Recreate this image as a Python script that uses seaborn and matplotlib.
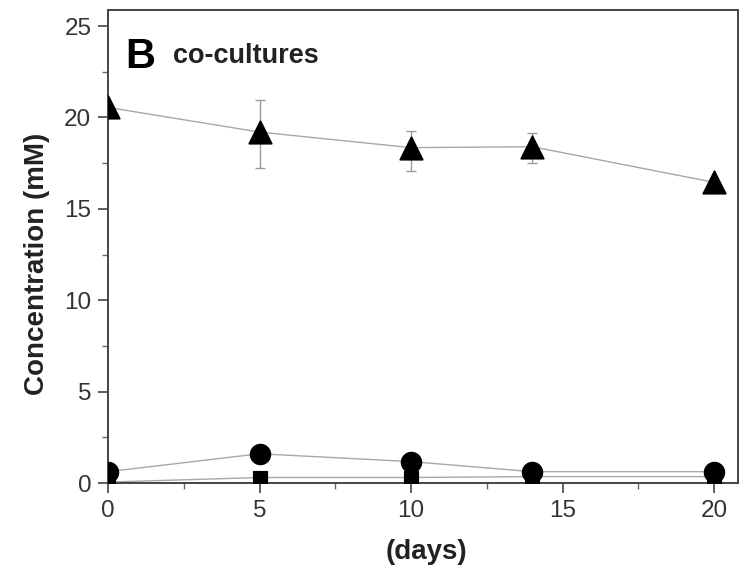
import numpy as np
import pandas as pd
import matplotlib
matplotlib.use("Agg")
import matplotlib.pyplot as plt
import seaborn as sns
from matplotlib.ticker import MultipleLocator

days = [0, 5, 10, 14, 20]
triangle_vals = [20.55, 19.2, 18.35, 18.4, 16.45]
triangle_err_hi = [0.0, 1.75, 0.92, 0.75, 0.0]
triangle_err_lo = [0.0, 1.95, 1.3, 0.9, 0.0]
circle_vals = [0.62, 1.6, 1.17, 0.62, 0.62]
square_vals = [0.05, 0.3, 0.3, 0.35, 0.35]

sns.set_style("ticks")
plt.rcParams['font.family'] = ['Liberation Sans', 'DejaVu Sans']

df = pd.concat([
    pd.DataFrame({"days": days, "conc": triangle_vals, "series": "tri"}),
    pd.DataFrame({"days": days, "conc": circle_vals, "series": "circ"}),
    pd.DataFrame({"days": days, "conc": square_vals, "series": "sq"}),
])

fig = plt.figure(figsize=(7.47, 5.75), dpi=100)
ax = fig.add_axes([108 / 747, 1 - 483 / 575, 630 / 747, 473 / 575])

sns.lineplot(data=df, x="days", y="conc", units="series", estimator=None,
             color="#a8a8a8", lw=1.0, ax=ax, legend=False, zorder=2)
ax.errorbar(days, triangle_vals, yerr=[triangle_err_lo, triangle_err_hi],
            fmt="none", ecolor="#9a9a9a", elinewidth=1.0, capsize=3.5, zorder=2)
markers = {"tri": "^", "circ": "o", "sq": "s"}
sizes = {"tri": 260, "circ": 205, "sq": 110}
for s, m in markers.items():
    sub = df[df.series == s]
    sns.scatterplot(data=sub, x="days", y="conc", marker=m, s=sizes[s],
                    color="black", edgecolor="black", ax=ax, legend=False, zorder=3)

ax.set_xlim(0, 20.79)
ax.set_ylim(0, 25.88)
ax.xaxis.set_major_locator(MultipleLocator(5))
ax.xaxis.set_minor_locator(MultipleLocator(2.5))
ax.yaxis.set_major_locator(MultipleLocator(5))
ax.yaxis.set_minor_locator(MultipleLocator(2.5))
ax.tick_params(which="major", direction="out", length=7, width=1.2, colors="#444444",
               labelsize=17.5, labelcolor="#333333", pad=5)
ax.tick_params(which="minor", direction="out", length=4, width=1.0, colors="#666666")
for sp in ax.spines.values():
    sp.set_visible(True)
    sp.set_color("#444444")
    sp.set_linewidth(1.4)

ax.set_xlabel("(days)", fontsize=20, fontweight="bold", color="#222222")
ax.set_ylabel("Concentration (mM)", fontsize=20, fontweight="bold", color="#222222")
ax.xaxis.set_label_coords(0.505, -0.118)
ax.yaxis.set_label_coords(-0.092, 0.464)

ax.text(0.028, 0.877, "B", transform=ax.transAxes, fontsize=30, fontweight="bold",
        color="black", va="baseline", ha="left")
ax.text(0.103, 0.888, "co-cultures", transform=ax.transAxes, fontsize=19.5,
        fontweight="bold", color="#222222", va="baseline", ha="left")

fig.savefig("out.png", dpi=100)
